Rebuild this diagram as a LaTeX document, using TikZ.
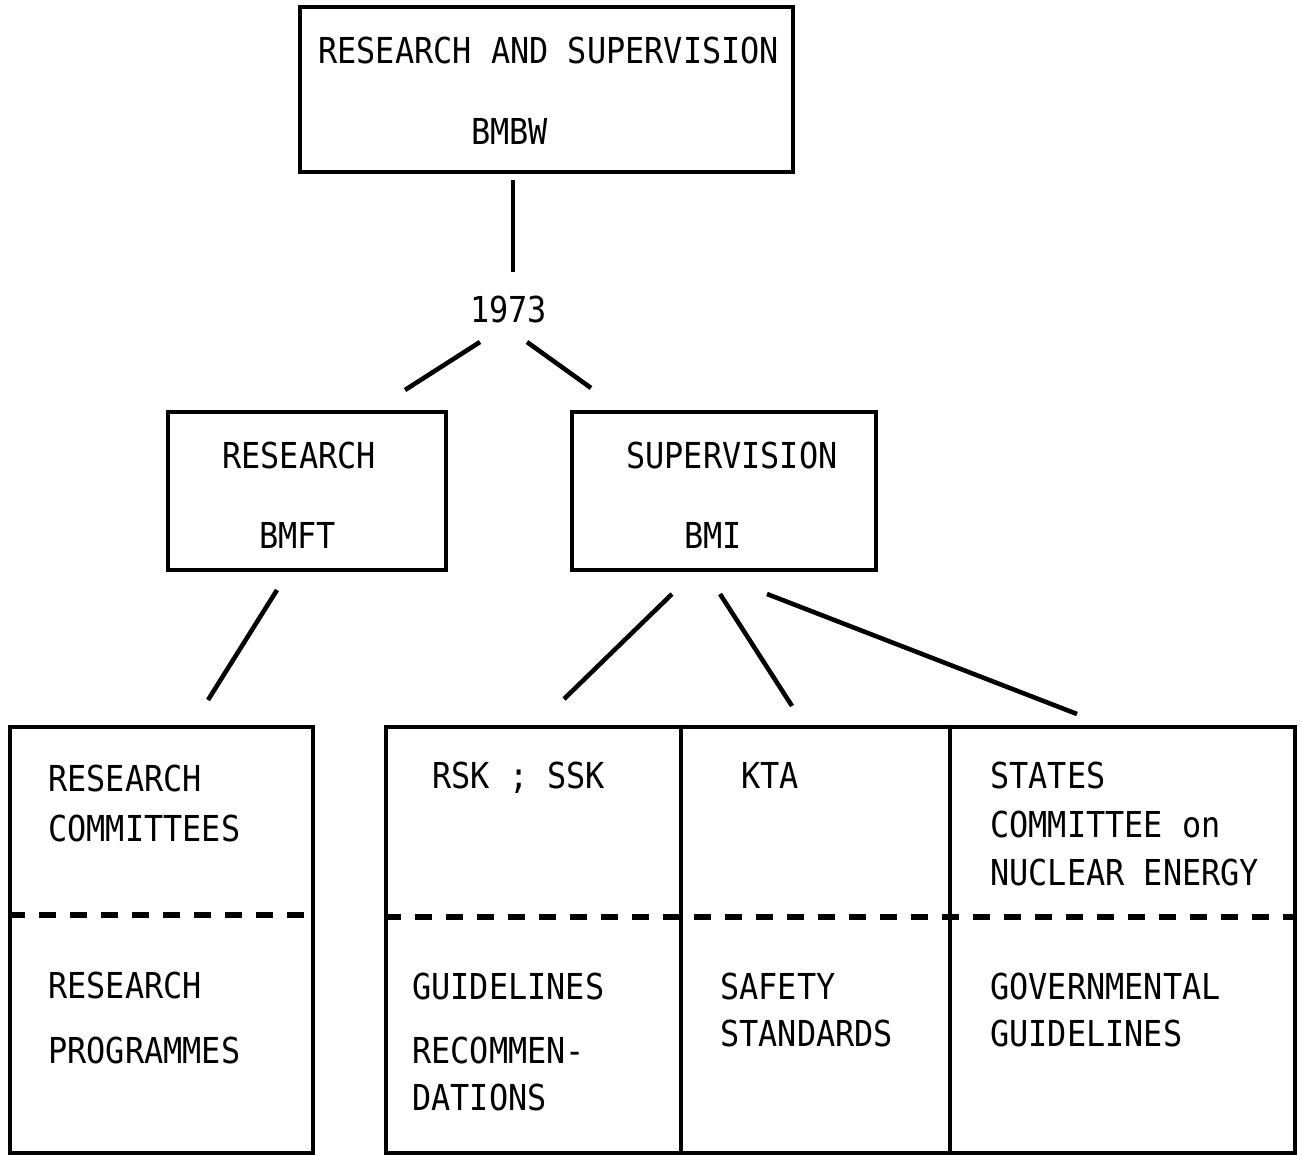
\documentclass[tikz,border=0pt]{standalone}
\usepackage{fontspec}
\usepackage{graphicx}
\setmonofont{DejaVu Sans Mono}
\newcommand\tallt[1]{\scalebox{1}[1.12]{#1}}
\begin{document}
\begin{tikzpicture}[x=0.02cm,y=-0.02cm,
  box/.style={draw, line width=2.5pt, inner sep=0pt},
  divline/.style={line width=2.5pt},
  lbl/.style={anchor=base west, inner sep=0pt, font=\ttfamily\fontsize{18.15}{20}\selectfont},
  link/.style={line width=2.6pt},
  sepline/.style={line width=3.2pt, dash pattern=on 0.34cm off 0.28cm}]
\useasboundingbox (0,0) rectangle (1301,1155);
% boxes
\node[box, minimum width=9.86cm, minimum height=3.3cm] (top) at (546.5,89.5) {};
\node[box, minimum width=5.56cm, minimum height=3.16cm] (bmft) at (307,491) {};
\node[box, minimum width=6.08cm, minimum height=3.16cm] (bmi) at (724,491) {};
\node[box, minimum width=6.06cm, minimum height=8.52cm] (lb) at (161.5,940) {};
\node[box, minimum width=18.18cm, minimum height=8.52cm] (rb) at (840.5,940) {};
\draw[divline] (681,0 |- rb.north) -- (681,0 |- rb.south);
\draw[divline] (950,0 |- rb.north) -- (950,0 |- rb.south);
\draw[sepline] (lb.west |- 0,915) -- (lb.east |- 0,915);
\draw[sepline] (rb.west |- 0,917) -- (rb.east |- 0,917);
% texts
\node[lbl] (t1) at (318,64) {\tallt{RESEARCH AND SUPERVISION}};
\node[lbl] (t2) at (471,145) {\tallt{BMBW}};
\node[lbl] (yr) at (470,323) {\tallt{1973}};
\node[lbl] (t3) at (222,468) {\tallt{RESEARCH}};
\node[lbl] (t4) at (259,548) {\tallt{BMFT}};
\node[lbl] (t5) at (626,468) {\tallt{SUPERVISION}};
\node[lbl] (t6) at (684,548) {\tallt{BMI}};
\node[lbl] (t7) at (48,791) {\tallt{RESEARCH}};
\node[lbl] (t8) at (48,841) {\tallt{COMMITTEES}};
\node[lbl] (t9) at (48,998) {\tallt{RESEARCH}};
\node[lbl] (t10) at (48,1063) {\tallt{PROGRAMMES}};
\node[lbl] (t11) at (432,788) {\tallt{RSK ; SSK}};
\node[lbl] (t12) at (741,788) {\tallt{KTA}};
\node[lbl] (t13) at (990,788) {\tallt{STATES}};
\node[lbl] (t14) at (990,837) {\tallt{COMMITTEE on}};
\node[lbl] (t15) at (990,885) {\tallt{NUCLEAR ENERGY}};
\node[lbl] (t16) at (412,999) {\tallt{GUIDELINES}};
\node[lbl] (t17) at (412,1063) {\tallt{RECOMMEN-}};
\node[lbl] (t18) at (412,1110) {\tallt{DATIONS}};
\node[lbl] (t19) at (720,999) {\tallt{SAFETY}};
\node[lbl] (t20) at (720,1046) {\tallt{STANDARDS}};
\node[lbl] (t21) at (990,999) {\tallt{GOVERNMENTAL}};
\node[lbl] (t22) at (990,1046) {\tallt{GUIDELINES}};
% connector end points
\coordinate (a1) at (513,180); \coordinate (a2) at (513,272);
\coordinate (b1) at (480,342); \coordinate (b2) at (405,390);
\coordinate (c1) at (527,342); \coordinate (c2) at (591,388);
\coordinate (d1) at (277,590); \coordinate (d2) at (208,700);
\coordinate (e1) at (672,594); \coordinate (e2) at (564,699);
\coordinate (f1) at (720,594); \coordinate (f2) at (792,706);
\coordinate (g1) at (767,594); \coordinate (g2) at (1077,714);
\draw[link] (a1) -- (a2);
\draw[link] (b1) -- (b2);
\draw[link] (c1) -- (c2);
\draw[link] (d1) -- (d2);
\draw[link] (e1) -- (e2);
\draw[link] (f1) -- (f2);
\draw[link] (g1) -- (g2);
\end{tikzpicture}
\end{document}
